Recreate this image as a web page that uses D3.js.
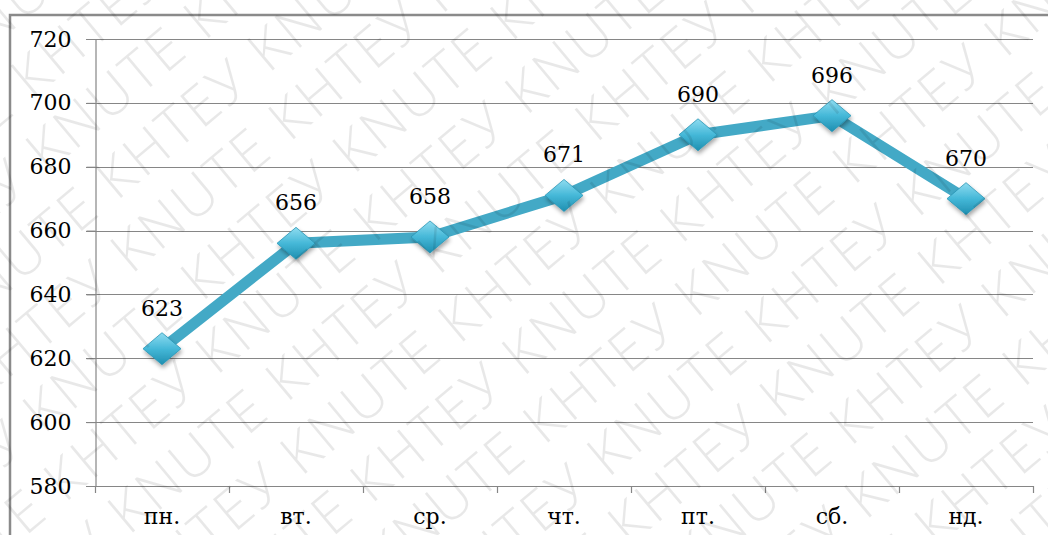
<!DOCTYPE html>
<html>
<head>
<meta charset="utf-8">
<script src="https://cdn.jsdelivr.net/npm/d3@7"></script>
<style>
  body { margin: 0; background: #fff; }
  svg { display: block; }
</style>
</head>
<body>
<div id="chart"></div>
<script>
const width = 1048,
  height = 535

// data
const days = ["пн.", "вт.", "ср.", "чт.", "пт.", "сб.", "нд."]
const values = [623, 656, 658, 671, 690, 696, 670]
const yTicks = [580, 600, 620, 640, 660, 680, 700, 720]
const watermarkWords = ["KNUTE", "КНТЕУ"]

const plot = { left: 95, right: 1033, top: 39, bottom: 486 }
const serif = "'DejaVu Serif', serif"

const svg = d3.select("#chart")
  .append("svg")
  .attr("width", width)
  .attr("height", height)

const defs = svg.append("defs")

// gradient + shadow for the diamonds
const grad = defs.append("linearGradient")
  .attr("id", "dgrad")
  .attr("x1", 0).attr("y1", 0).attr("x2", 0).attr("y2", 1)
grad.append("stop").attr("offset", "0%").attr("stop-color", "#8fdcf0")
grad.append("stop").attr("offset", "50%").attr("stop-color", "#45b8d8")
grad.append("stop").attr("offset", "100%").attr("stop-color", "#1f8fb0")

const shadow = defs.append("filter").attr("id", "shadow")
  .attr("x", "-50%").attr("y", "-50%").attr("width", "200%").attr("height", "200%")
shadow.append("feDropShadow")
  .attr("dx", 1).attr("dy", 3).attr("stdDeviation", 2)
  .attr("flood-color", "#000").attr("flood-opacity", 0.35)

// outer frame (only top and left edges are visible)
svg.append("path")
  .attr("d", `M10,${height + 5} L10,15 L${width + 5},15`)
  .attr("fill", "none")
  .attr("stroke", "#8a8a8a")
  .attr("stroke-width", 2.5)

const x = d3.scaleBand()
  .domain(days)
  .range([plot.left, plot.right])

const y = d3.scaleLinear()
  .domain([580, 720])
  .range([plot.bottom, plot.top])

//Gridlines
svg.append("g")
  .selectAll("line")
  .data(yTicks)
  .join("line")
  .attr("x1", plot.left - 9)
  .attr("x2", plot.right)
  .attr("y1", d => Math.round(y(d)) + 0.5)
  .attr("y2", d => Math.round(y(d)) + 0.5)
  .attr("stroke", "#868686")
  .attr("stroke-width", 1.2)

// y axis
const yAxis = svg.append("g")
  .attr("transform", `translate(${plot.left + 0.5},0)`)
  .call(d3.axisLeft(y).tickValues(yTicks).tickSize(9).tickPadding(15))
yAxis.attr("font-family", null).attr("font-size", null)
yAxis.select(".domain").attr("stroke", "#868686").attr("stroke-width", 1.2)
yAxis.selectAll(".tick line").attr("stroke", "#868686")
yAxis.selectAll(".tick text")
  .style("font-family", serif)
  .style("font-size", "22px")
  .attr("fill", "#000")

// x axis
const xAxis = svg.append("g")
  .attr("transform", `translate(0,${Math.round(y(580)) + 0.5})`)
  .call(d3.axisBottom(x).tickSize(0).tickPadding(22))
xAxis.attr("font-family", null).attr("font-size", null)
xAxis.select(".domain").remove()
xAxis.selectAll(".tick text")
  .style("font-family", serif)
  .style("font-size", "22px")
  .attr("fill", "#000")

// tick marks at the band edges
const edges = days.map(d => x(d)).concat([plot.right])
svg.append("g")
  .selectAll("line")
  .data(edges)
  .join("line")
  .attr("x1", d => Math.round(d) + 0.5)
  .attr("x2", d => Math.round(d) + 0.5)
  .attr("y1", y(580))
  .attr("y2", y(580) + 7)
  .attr("stroke", "#868686")
  .attr("stroke-width", 1.2)

const pts = days.map((d, i) => ({ day: d, value: values[i] }))
const cx = d => x(d.day) + x.bandwidth() / 2

// the line
const line = d3.line()
  .x(cx)
  .y(d => y(d.value))

svg.append("path")
  .datum(pts)
  .attr("d", line)
  .attr("fill", "none")
  .attr("stroke", "#43a9c6")
  .attr("stroke-width", 11)
  .attr("stroke-linejoin", "round")

// diamonds
svg.append("g")
  .selectAll("path")
  .data(pts)
  .join("path")
  .attr("transform", d => `translate(${cx(d)},${y(d.value)})`)
  .attr("d", "M0,-16 L19,0 L0,16 L-19,0 Z")
  .attr("fill", "url(#dgrad)")
  .attr("stroke", "#2a95b5")
  .attr("stroke-width", 0.8)
  .attr("filter", "url(#shadow)")

// value labels
svg.append("g")
  .selectAll("text")
  .data(pts)
  .join("text")
  .attr("x", cx)
  .attr("y", d => y(d.value) - 33)
  .attr("text-anchor", "middle")
  .style("font-family", serif)
  .style("font-size", "22px")
  .attr("fill", "#000")
  .text(d => d.value)

//Watermark on top of everything
const wm = svg.append("g")
  .attr("transform", "rotate(-40 524 267)")
  .attr("pointer-events", "none")
const row = d3.range(12).map(i => watermarkWords[i % 2]).join("  ")
wm.selectAll("text")
  .data(d3.range(-12, 13))
  .join("text")
  .attr("x", d => -760 + (d % 2 ? 0 : 170))
  .attr("y", d => 285 + d * 66)
  .style("font-family", "'Open Sans', 'DejaVu Sans', sans-serif")
  .style("font-weight", 300)
  .style("font-size", "56px")
  .style("letter-spacing", "3px")
  .attr("fill", "#000")
  .attr("fill-opacity", 0.09)
  .text(row + "  " + row)
</script>
</body>
</html>
